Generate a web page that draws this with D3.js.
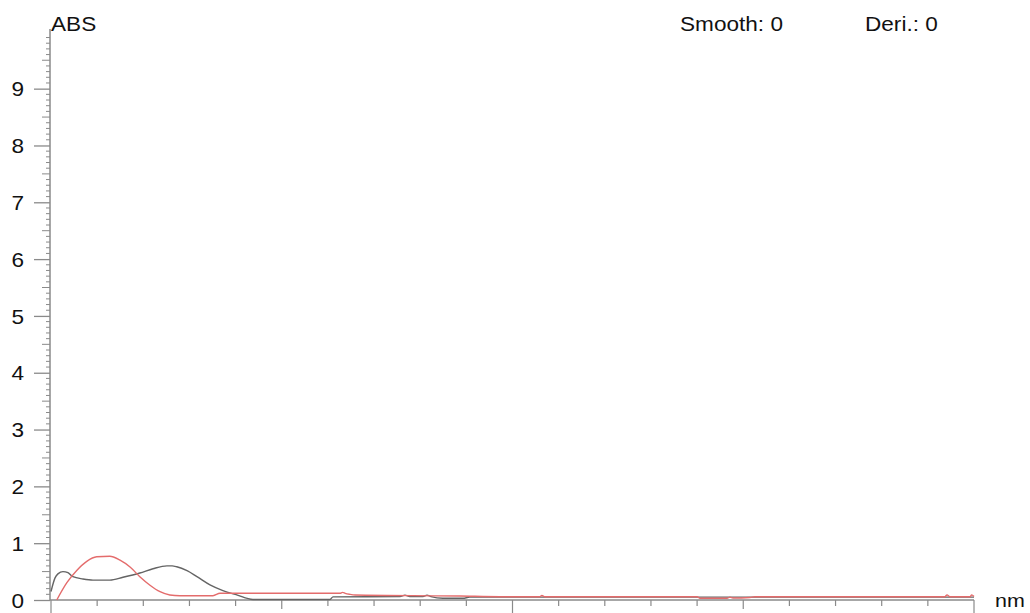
<!DOCTYPE html>
<html>
<head>
<meta charset="utf-8">
<script src="https://cdn.jsdelivr.net/npm/d3@7"></script>
<style>
  html, body { margin: 0; padding: 0; background: #fff; }
  svg { display: block; }
  text { font-family: "Liberation Sans", Arial, sans-serif; fill: #111; }
</style>
</head>
<body>
<svg id="chart" width="1030" height="613"></svg>
<script>
// ---- data ----
const yTickLabels = ["0","1","2","3","4","5","6","7","8","9"];
const headerLabels = ["Smooth: 0", "Deri.: 0"];
const yTitle = "ABS";
const xTitle = "nm";

const grayNm  = [200, 203.5, 206, 210.4, 214.7, 219, 227.7, 236.4, 251, 262.4, 277, 288.4, 300.5, 305, 309, 317.9, 326.5, 337.8, 349, 361, 375, 441.8, 444.4, 502.5, 506.8, 511, 522.4, 525.9, 529.3, 539.7, 557, 563, 700, 850, 1000];
const grayAbs = [0.15, 0.39, 0.46, 0.50, 0.48, 0.41, 0.37, 0.35, 0.35, 0.40, 0.475, 0.55, 0.60, 0.60, 0.585, 0.515, 0.41, 0.265, 0.165, 0.09, 0.01, 0.01, 0.055, 0.06, 0.085, 0.06, 0.06, 0.085, 0.06, 0.03, 0.03, 0.05, 0.05, 0.05, 0.05];

const redNm  = [205, 213.6, 222.3, 231, 239.6, 251, 259.8, 268.5, 277, 285.8, 294.5, 303, 311.8, 340.4, 346.5, 450.5, 452.8, 455, 459, 463.5, 554.5, 589, 623.8, 625.5, 628, 760, 762.5, 786, 788.5, 791, 805.8, 810, 974.8, 976.6, 979, 996.5, 998, 1000];
const redAbs = [0.0, 0.30, 0.52, 0.68, 0.76, 0.77, 0.70, 0.58, 0.41, 0.26, 0.146, 0.088, 0.076, 0.076, 0.118, 0.118, 0.135, 0.118, 0.10, 0.088, 0.07, 0.058, 0.058, 0.08, 0.058, 0.058, 0.03, 0.03, 0.05, 0.035, 0.045, 0.058, 0.058, 0.09, 0.058, 0.058, 0.09, 0.06];

// ---- layout ----
const svg = d3.select("#chart");
const axisX = 50, baseY = 600;
const x = d3.scaleLinear().domain([200, 1000]).range([51, 974]);
const y = d3.scaleLinear().domain([0, 10.05]).range([baseY, 29]);
const axisColor = "#8a8a8a";
const sx = 1.13; // horizontal text stretch

// y-axis minor ticks (0.1) and medium (0.5)
const minorVals = d3.range(0, 101).map(i => i / 10).filter(v => Math.abs(v - Math.round(v)) > 1e-6);
const yMinor = svg.append("g");
yMinor.selectAll("line").data(minorVals).join("line")
  .attr("x1", d => Math.abs(d * 2 - Math.round(d * 2)) < 1e-6 ? axisX - 8 : axisX - 4)
  .attr("x2", axisX)
  .attr("y1", d => y(d)).attr("y2", d => y(d))
  .attr("stroke", axisColor).attr("stroke-width", 1);

// y-axis major ticks with labels
const yAxis = d3.axisLeft(y)
  .tickValues(yTickLabels.map(Number))
  .tickSize(16)
  .tickPadding(0)
  .tickFormat((d, i) => yTickLabels[i]);
const gy = svg.append("g").attr("transform", `translate(${axisX},0)`).call(yAxis);
gy.select(".domain").remove();
gy.selectAll(".tick line").attr("stroke", axisColor).attr("stroke-width", 1.3);
gy.selectAll(".tick text")
  .attr("x", -26 / sx).attr("dy", "0.36em")
  .attr("transform", `scale(${sx},1)`)
  .style("font-size", "20px").style("font-family", '"Liberation Sans", Arial, sans-serif')
  .attr("fill", "#111").attr("text-anchor", "end");
svg.append("line")
  .attr("x1", axisX).attr("x2", axisX)
  .attr("y1", y(10.05)).attr("y2", baseY)
  .attr("stroke", axisColor).attr("stroke-width", 1.5);

// x-axis
const xTickVals = d3.range(200, 1001, 40);
svg.append("g").selectAll("line").data(xTickVals).join("line")
  .attr("x1", d => x(d)).attr("x2", d => x(d))
  .attr("y1", baseY)
  .attr("y2", d => (d - 200) % 400 === 0 ? baseY + 13 : ((d - 200) % 200 === 0 ? baseY + 9 : baseY + 6))
  .attr("stroke", axisColor).attr("stroke-width", 1.2);
svg.append("line")
  .attr("x1", axisX).attr("x2", x(1000))
  .attr("y1", baseY).attr("y2", baseY)
  .attr("stroke", axisColor).attr("stroke-width", 1.3);

// curves
const line = d3.line().x(d => x(d[0])).y(d => y(d[1])).curve(d3.curveMonotoneX);
svg.append("path")
  .datum(grayNm.map((v, i) => [v, grayAbs[i]]))
  .attr("d", line).attr("fill", "none").attr("stroke", "#646464").attr("stroke-width", 1.4);
svg.append("path")
  .datum(redNm.map((v, i) => [v, redAbs[i]]))
  .attr("d", line).attr("fill", "none").attr("stroke", "#e46c6c").attr("stroke-width", 1.4);

// titles
function stretchedText(tx, ty, str, fs) {
  svg.append("text")
    .attr("transform", `translate(${tx},${ty}) scale(${sx},1)`)
    .style("font-size", (fs || 20) + "px")
    .text(str);
}
stretchedText(51, 31, yTitle);
stretchedText(680, 31, headerLabels[0]);
stretchedText(865, 31, headerLabels[1]);
stretchedText(995, 607, xTitle, 19);
</script>
</body>
</html>
